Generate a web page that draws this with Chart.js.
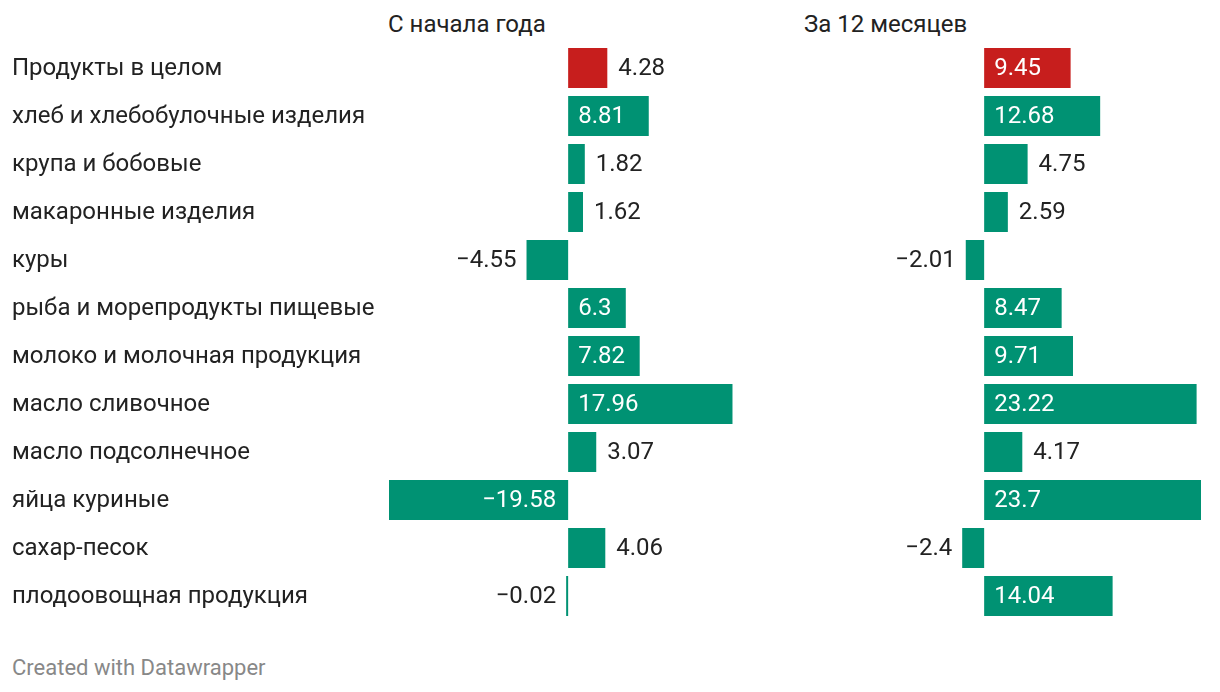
<!DOCTYPE html>
<html>
<head>
<meta charset="utf-8">
<script src="https://cdn.jsdelivr.net/npm/chart.js@4"></script>
<style>
  html, body { margin: 0; padding: 0; background: #fff; }
  body { width: 1220px; height: 692px; position: relative; overflow: hidden; font-family: Roboto, sans-serif; }
  .title { position: absolute; top: 10px; font-size: 24px; color: #222; line-height: 28px; }
  #footer { position: absolute; left: 12px; top: 656px; font-size: 22px; color: #888; line-height: 24px; }
  canvas { position: absolute; top: 0; }
</style>
</head>
<body>
<div class="title" style="left:388px">С начала года</div>
<div class="title" style="left:804px">За 12 месяцев</div>
<div id="footer">Created with Datawrapper</div>
<canvas id="c1" style="left:0"></canvas>
<canvas id="c2" style="left:800px"></canvas>
<script>
const categories = [
  "Продукты в целом",
  "хлеб и хлебобулочные изделия",
  "крупа и бобовые",
  "макаронные изделия",
  "куры",
  "рыба и морепродукты пищевые",
  "молоко и молочная продукция",
  "масло сливочное",
  "масло подсолнечное",
  "яйца куриные",
  "сахар-песок",
  "плодоовощная продукция"
];
const sinceYearStart = [4.28, 8.81, 1.82, 1.62, -4.55, 6.3, 7.82, 17.96, 3.07, -19.58, 4.06, -0.02];
const last12Months = [9.45, 12.68, 4.75, 2.59, -2.01, 8.47, 9.71, 23.22, 4.17, 23.7, -2.4, 14.04];
const highlightIndex = 0;

const RED = '#c71e1d';
const GREEN = '#009273';
const all = sinceYearStart.concat(last12Months);
const xMin = Math.min(...all);
const xMax = Math.max(...all);

function fmt(v) {
  return (v < 0 ? '\u2212' : '') + String(Math.abs(v));
}

const valueLabels = {
  id: 'valueLabels',
  afterDatasetsDraw(chart, args, opts) {
    const ctx = chart.ctx;
    const xs = chart.scales.x;
    const meta = chart.getDatasetMeta(0);
    const data = chart.data.datasets[0].data;
    ctx.save();
    ctx.font = '24px Roboto, sans-serif';
    ctx.textBaseline = 'middle';
    const zero = xs.getPixelForValue(0);
    meta.data.forEach((bar, i) => {
      const v = data[i];
      const txt = fmt(v);
      const w = ctx.measureText(txt).width;
      const end = xs.getPixelForValue(v);
      const barW = Math.abs(end - zero);
      const inside = w + 20 <= barW;
      const y = bar.y + 1;
      if (v >= 0) {
        if (inside) { ctx.fillStyle = '#fff'; ctx.textAlign = 'left'; ctx.fillText(txt, zero + 10, y); }
        else { ctx.fillStyle = '#222'; ctx.textAlign = 'left'; ctx.fillText(txt, end + 11, y); }
      } else {
        if (inside) { ctx.fillStyle = '#fff'; ctx.textAlign = 'right'; ctx.fillText(txt, zero - 12, y); }
        else { ctx.fillStyle = '#222'; ctx.textAlign = 'right'; ctx.fillText(txt, Math.min(end, zero - 2) - 10, y); }
      }
    });
    if (opts.showCategories) {
      const ys = chart.scales.y;
      ctx.fillStyle = '#222';
      ctx.textAlign = 'left';
      categories.forEach((c, i) => {
        ctx.fillText(c, 12, ys.getPixelForValue(i) + 1);
      });
    }
    ctx.restore();
  }
};

function makeChart(id, values, width, padLeft, padRight, showCategories) {
  const el = document.getElementById(id);
  el.width = width; el.height = 692;
  el.style.width = width + 'px'; el.style.height = '692px';
  return new Chart(el, {
    type: 'bar',
    data: {
      labels: categories,
      datasets: [{
        data: values,
        backgroundColor: values.map((v, i) => i === highlightIndex ? RED : GREEN),
        borderWidth: 0,
        barPercentage: 40 / 48,
        categoryPercentage: 1,
        minBarLength: 2
      }]
    },
    options: {
      indexAxis: 'y',
      responsive: false,
      animation: false,
      devicePixelRatio: 1,
      layout: { padding: { left: padLeft, right: padRight, top: 44, bottom: 72 } },
      scales: {
        x: { display: false, min: xMin, max: xMax },
        y: { display: false }
      },
      plugins: {
        legend: { display: false },
        tooltip: { enabled: false },
        valueLabels: { showCategories }
      }
    },
    plugins: [valueLabels]
  });
}

makeChart('c1', sinceYearStart, 800, 389, 15, true);
makeChart('c2', last12Months, 420, 5, 19, false);
</script>
</body>
</html>
